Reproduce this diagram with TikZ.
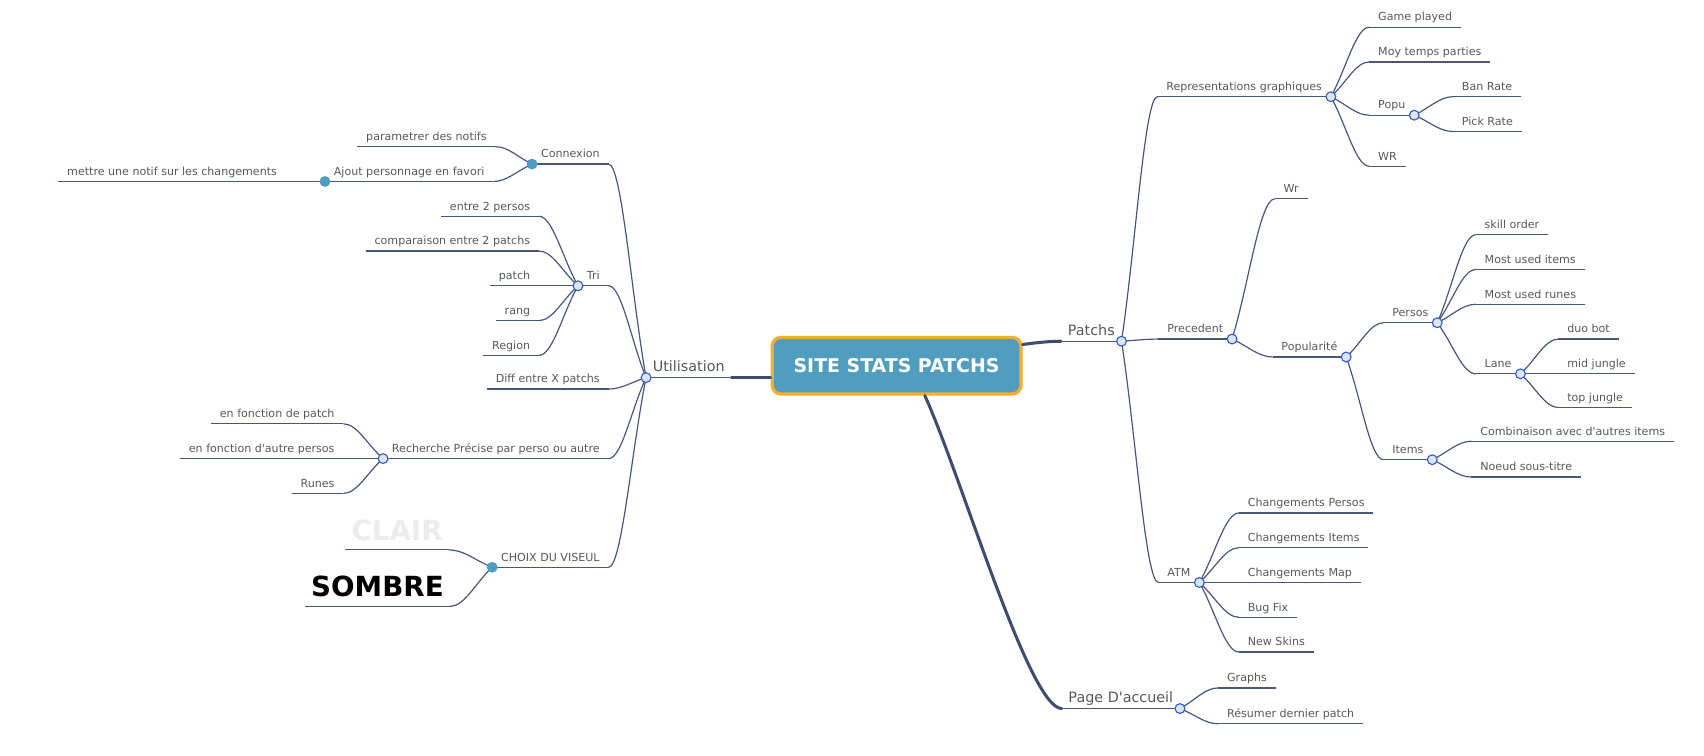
\documentclass[tikz,border=0pt]{standalone}
\usepackage{fontspec}
\setmainfont{DejaVu Sans}
\usetikzlibrary{calc}

\definecolor{linec}{RGB}{72,86,124}
\definecolor{trunkc}{RGB}{62,76,112}
\definecolor{txtc}{RGB}{88,88,88}
\definecolor{hubfill}{RGB}{222,229,241}
\definecolor{hubdraw}{RGB}{40,88,210}
\definecolor{dotc}{RGB}{79,155,193}
\definecolor{rootfill}{RGB}{81,157,192}
\definecolor{rootdraw}{RGB}{244,174,47}
\definecolor{clairc}{RGB}{236,236,236}

\tikzset{
  branch/.style={draw=linec, line width=1.1pt},
  trunk/.style={draw=trunkc, line width=2.8pt, line cap=round},
  lbl/.style={font=\fontsize{10.2}{12}\selectfont, text=txtc, inner xsep=8pt, inner ysep=3pt, text depth=2.5pt},
  big/.style={lbl, font=\fontsize{13.2}{15}\selectfont, inner xsep=6pt},
  leafr/.style={lbl, anchor=south west},
  leafl/.style={lbl, anchor=south east},
  theme/.style={anchor=south east, font=\bfseries\fontsize{25.5}{28}\selectfont, inner xsep=5.5pt, inner ysep=6pt, text depth=2.5pt},
  hub/.style={circle, draw=hubdraw, fill=hubfill, line width=1pt, minimum size=9pt, inner sep=0pt},
  dot/.style={circle, fill=dotc, minimum size=10pt, inner sep=0pt},
  rootbox/.style={draw=rootdraw, fill=rootfill, line width=3pt, rounded corners=8pt,
    minimum width=229pt, minimum height=52pt, text=white, font=\bfseries\fontsize{17.4}{20}\selectfont}
}

\newcommand\twig[2]{\draw[branch] (#1) .. controls ($(#1)!0.4!(#2)$) and ($(#2)!0.35!(#2 -| #1)$) .. (#2);}

\begin{document}
\begin{tikzpicture}[x=1pt,y=-1pt]
	\useasboundingbox (0,0) rectangle (1568,695);
	\node[rootbox] (root) at (825,336.5) {SITE STATS PATCHS};

	% right side
	\node[big, anchor=south east] (patchs) at (1032,314) {Patchs};
	\node[big, anchor=south west] (page) at (977,652) {Page D\textquotesingle accueil};
	\draw[trunk] ($(root.north east)+(0,8)$) .. controls +(15,-2) and +(-10,0) .. (patchs.south west);
	\draw[trunk] ($(root.south)+(26,0)$) .. controls +(34,75) and +(-30,0) .. (page.south west);
	\draw[branch] (patchs.south west) -- (patchs.south east);
	\draw[branch] (page.south west) -- (page.south east);

	\foreach \n/\t/\x/\y in {rep/Representations graphiques/1065/89, prec/Precedent/1066/312, atm/ATM/1066/536} {
		\node[leafr] (\n) at (\x,\y) {\t};
		\draw[branch] (\n.south west) -- (\n.south east);
		\twig{patchs.south east}{\n.south west}
	}
	\foreach \n/\t/\y in {gp/Game played/25, moy/Moy temps parties/57, popu/Popu/106, wr/WR/153} {
		\node[leafr] (\n) at (1260,\y) {\t};
		\draw[branch] (\n.south west) -- (\n.south east);
		\twig{rep.south east}{\n.south west}
	}
	\foreach \n/\t/\y in {ban/Ban Rate/89, pick/Pick Rate/121} {
		\node[leafr] (\n) at (1337,\y) {\t};
		\draw[branch] (\n.south west) -- (\n.south east);
		\twig{popu.south east}{\n.south west}
	}
	\foreach \n/\t/\x/\y in {wrs/Wr/1173/183, pop/Popularité/1171/328.5} {
		\node[leafr] (\n) at (\x,\y) {\t};
		\draw[branch] (\n.south west) -- (\n.south east);
		\twig{prec.south east}{\n.south west}
	}
	\foreach \n/\t/\y in {persos/Persos/297, items/Items/423} {
		\node[leafr] (\n) at (1273,\y) {\t};
		\draw[branch] (\n.south west) -- (\n.south east);
		\twig{pop.south east}{\n.south west}
	}
	\foreach \n/\t/\y in {skill/skill order/216, mitems/Most used items/248, mrunes/Most used runes/280, lane/Lane/344} {
		\node[leafr] (\n) at (1358,\y) {\t};
		\draw[branch] (\n.south west) -- (\n.south east);
		\twig{persos.south east}{\n.south west}
	}
	\foreach \n/\t/\y in {duo/duo bot/312, mid/mid jungle/344, top/top jungle/375} {
		\node[leafr] (\n) at (1434,\y) {\t};
		\draw[branch] (\n.south west) -- (\n.south east);
		\twig{lane.south east}{\n.south west}
	}
	\foreach \n/\t/\y in {comb/Combinaison avec d\textquotesingle autres items/406, noeud/Noeud sous-titre/439} {
		\node[leafr] (\n) at (1354,\y) {\t};
		\draw[branch] (\n.south west) -- (\n.south east);
		\twig{items.south east}{\n.south west}
	}
	\foreach \n/\t/\y in {cp/Changements Persos/472, ci/Changements Items/504, cm/Changements Map/536, bug/Bug Fix/568, skins/New Skins/600} {
		\node[leafr] (\n) at (1140,\y) {\t};
		\draw[branch] (\n.south west) -- (\n.south east);
		\twig{atm.south east}{\n.south west}
	}
	\foreach \n/\t/\y in {graphs/Graphs/633, resum/Résumer dernier patch/666} {
		\node[leafr] (\n) at (1121,\y) {\t};
		\draw[branch] (\n.south west) -- (\n.south east);
		\twig{page.south east}{\n.south west}
	}

	% left side
	\node[big, anchor=south west] (uti) at (594.5,347.5) {Utilisation};
	\draw[trunk] ($(root.west)+(0,11)$) -- (uti.south east);
	\draw[branch] (uti.south west) -- (uti.south east);
	\foreach \n/\t/\y in {con/Connexion/151, tri/Tri/263, diff/Diff entre X patchs/358, rech/Recherche Précise par perso ou autre/422, choix/CHOIX DU VISEUL/522} {
		\node[leafl] (\n) at (560,\y) {\t};
		\draw[branch] (\n.south west) -- (\n.south east);
		\twig{uti.south west}{\n.south east}
	}
	\foreach \n/\t/\x/\y in {par/parametrer des notifs/456/135, ajout/Ajout personnage en favori/454/167} {
		\node[leafl] (\n) at (\x,\y) {\t};
		\draw[branch] (\n.south west) -- (\n.south east);
		\twig{con.south west}{\n.south east}
	}
	\node[leafl] (mettre) at (263,167) {mettre une notif sur les changements};
	\draw[branch] (mettre.south west) -- (mettre.south east);
	\twig{ajout.south west}{mettre.south east}
	\foreach \n/\t/\y in {e2p/entre 2 persos/199, cmp/comparaison entre 2 patchs/231, pat/patch/263, rang/rang/295, reg/Region/327} {
		\node[leafl] (\n) at (496,\y) {\t};
		\draw[branch] (\n.south west) -- (\n.south east);
		\twig{tri.south west}{\n.south east}
	}
	\foreach \n/\t/\y in {efp/en fonction de patch/390, efa/en fonction d\textquotesingle autre persos/422, runes/Runes/454} {
		\node[leafl] (\n) at (316,\y) {\t};
		\draw[branch] (\n.south west) -- (\n.south east);
		\twig{rech.south west}{\n.south east}
	}
	\node[theme, text=clairc] (clair) at (413,506) {CLAIR};
	\node[theme, text=black] (sombre) at (414,558) {SOMBRE};
	\foreach \n in {clair,sombre} {
		\draw[branch] (\n.south west) -- (\n.south east);
		\twig{choix.south west}{\n.south east}
	}

	% junctions
	\foreach \h [count=\k] in {patchs.south east,rep.south east,popu.south east,prec.south east,pop.south east,persos.south east,lane.south east,items.south east,atm.south east,page.south east,uti.south west,tri.south west,rech.south west}
		\node[hub] (hub\k) at (\h) {};
	\foreach \h [count=\k] in {con.south west,ajout.south west,choix.south west}
		\node[dot] (dot\k) at (\h) {};
\end{tikzpicture}
\end{document}
